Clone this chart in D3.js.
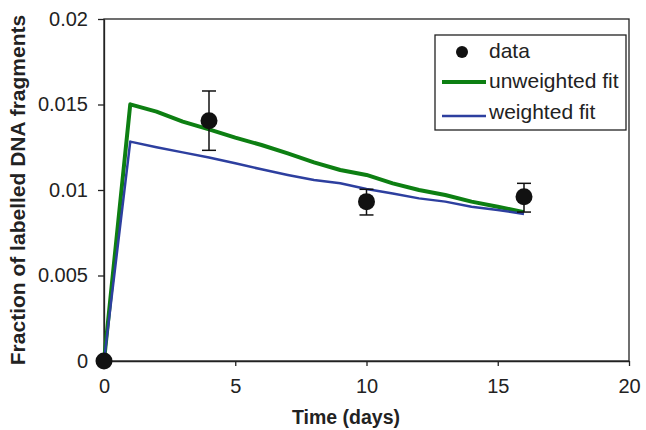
<!DOCTYPE html>
<html>
  <head>
    <meta charset="utf-8">
    <title>Fraction of labelled DNA fragments</title>
    <script src="https://cdn.jsdelivr.net/npm/d3@7"></script>
    <style>
      body { margin: 0; background: #fff; }
      svg { font-family: "Liberation Sans", Arial, sans-serif; }
      .tick text { font-size: 20px; fill: #222; }
      .axisTitle { font-weight: bold; fill: #222; }
      .legendText { font-size: 21px; fill: #222; }
    </style>
  </head>
  <body>
    <svg id="chart" width="646" height="430"></svg>
    <script>
      // measured points with error bars
      dataDays = [0, 4, 10, 16];
      dataValues = [0, 0.01405, 0.00932, 0.00961];
      dataLow = [0, 0.01232, 0.00854, 0.00871];
      dataHigh = [0, 0.01579, 0.01004, 0.01039];

      // fitted curves, one value per day
      fitDays = [0, 1, 2, 3, 4, 5, 6, 7, 8, 9, 10, 11, 12, 13, 14, 15, 16];
      unweightedFit = [0, 0.01501, 0.01458, 0.0140, 0.01355, 0.01306, 0.01263, 0.01214, 0.01162, 0.01117, 0.01088, 0.01039, 0.0100, 0.00971, 0.00932, 0.00902, 0.0087];
      weightedFit = [0, 0.01283, 0.0125, 0.0122, 0.0119, 0.01156, 0.01121, 0.01088, 0.01058, 0.01039, 0.01006, 0.0098, 0.00951, 0.00932, 0.00902, 0.00883, 0.0086];

      xTicks = [0, 5, 10, 15, 20];
      yTicks = [0, 0.005, 0.01, 0.015, 0.02];
      yTickLabels = ["0", "0.005", "0.01", "0.015", "0.02"];

      legendLabels = ["data", "unweighted fit", "weighted fit"];

      margin = { top: 19, right: 17, bottom: 69, left: 104 };
      width = 646;
      height = 430;

      chart = d3.select("#chart");

      x = d3.scaleLinear().domain([0, 20]).range([margin.left, width - margin.right]);
      y = d3.scaleLinear().domain([0, 0.02]).range([height - margin.bottom, margin.top]);

      // frame
      chart.append("rect")
        .attr("x", x(0))
        .attr("y", y(0.02))
        .attr("width", x(20) - x(0))
        .attr("height", y(0) - y(0.02))
        .attr("fill", "none")
        .attr("stroke", "#222")
        .attr("stroke-width", 1.3);

      xAxis = d3.axisBottom(x)
        .tickValues(xTicks)
        .tickSize(5)
        .tickSizeOuter(0);
      yAxis = d3.axisLeft(y)
        .tickValues(yTicks)
        .tickFormat(function(d, i) { return yTickLabels[i]; })
        .tickSize(6)
        .tickSizeOuter(0)
        .tickPadding(10);

      xAxisGroup = chart.append("g")
        .attr("transform", "translate(0," + y(0) + ")")
        .call(xAxis);
      yAxisGroup = chart.append("g")
        .attr("transform", "translate(" + x(0) + ",0)")
        .call(yAxis);
      [xAxisGroup, yAxisGroup].forEach(function(g) {
        g.select(".domain").attr("stroke", "#222").attr("stroke-width", 1.3);
        g.selectAll(".tick line").attr("stroke", "#222").attr("stroke-width", 1.3);
        g.attr("font-family", null).attr("font-size", null);
      });
      xAxisGroup.selectAll(".tick text").attr("y", 32).attr("dy", null);

      chart.append("text")
        .attr("class", "axisTitle")
        .attr("x", 346)
        .attr("y", 424)
        .attr("font-size", "19.5px")
        .attr("text-anchor", "middle")
        .text("Time (days)");
      chart.append("text")
        .attr("class", "axisTitle")
        .attr("transform", "translate(25," + 190 + ") rotate(-90)")
        .attr("font-size", "21px")
        .attr("text-anchor", "middle")
        .text("Fraction of labelled DNA fragments");

      // fit lines
      line = d3.line()
        .x(function(d) { return x(d[0]); })
        .y(function(d) { return y(d[1]); });
      chart.append("path")
        .datum(d3.zip(fitDays, unweightedFit))
        .attr("d", line)
        .attr("fill", "none")
        .attr("stroke", "#0d7f12")
        .attr("stroke-width", 4)
        .attr("stroke-linejoin", "round");
      chart.append("path")
        .datum(d3.zip(fitDays, weightedFit))
        .attr("d", line)
        .attr("fill", "none")
        .attr("stroke", "#2d3f9f")
        .attr("stroke-width", 2.5)
        .attr("stroke-linejoin", "round");

      // error bars and points
      points = chart.selectAll(".point")
        .data(d3.range(dataDays.length))
        .enter().append("g")
          .attr("class", "point");
      points.filter(function(i) { return dataHigh[i] > dataLow[i]; })
        .each(function(i) {
          let g = d3.select(this);
          let cx = x(dataDays[i]);
          g.append("line")
            .attr("x1", cx).attr("x2", cx)
            .attr("y1", y(dataLow[i])).attr("y2", y(dataHigh[i]));
          g.append("line")
            .attr("x1", cx - 7).attr("x2", cx + 7)
            .attr("y1", y(dataLow[i])).attr("y2", y(dataLow[i]));
          g.append("line")
            .attr("x1", cx - 7).attr("x2", cx + 7)
            .attr("y1", y(dataHigh[i])).attr("y2", y(dataHigh[i]));
          g.selectAll("line").attr("stroke", "#111").attr("stroke-width", 1.5);
        });
      points.append("circle")
        .attr("cx", function(i) { return x(dataDays[i]); })
        .attr("cy", function(i) { return y(dataValues[i]); })
        .attr("r", 8.5)
        .attr("fill", "#111");

      // legend
      legend = chart.append("g");
      legend.append("rect")
        .attr("x", 435).attr("y", 35)
        .attr("width", 191).attr("height", 95)
        .attr("fill", "#fff")
        .attr("stroke", "#222")
        .attr("stroke-width", 1.3);
      legend.append("circle")
        .attr("cx", 462).attr("cy", 52).attr("r", 6)
        .attr("fill", "#111");
      legend.append("line")
        .attr("x1", 442).attr("x2", 486)
        .attr("y1", 82).attr("y2", 82)
        .attr("stroke", "#0d7f12").attr("stroke-width", 4);
      legend.append("line")
        .attr("x1", 442).attr("x2", 486)
        .attr("y1", 116).attr("y2", 116)
        .attr("stroke", "#2d3f9f").attr("stroke-width", 2.5);
      legend.selectAll(".legendText")
        .data(legendLabels)
        .enter().append("text")
          .attr("class", "legendText")
          .attr("x", 489)
          .attr("y", function(d, i) { return [58, 88, 119][i]; })
          .text(function(d) { return d; });
    </script>
  </body>
</html>
